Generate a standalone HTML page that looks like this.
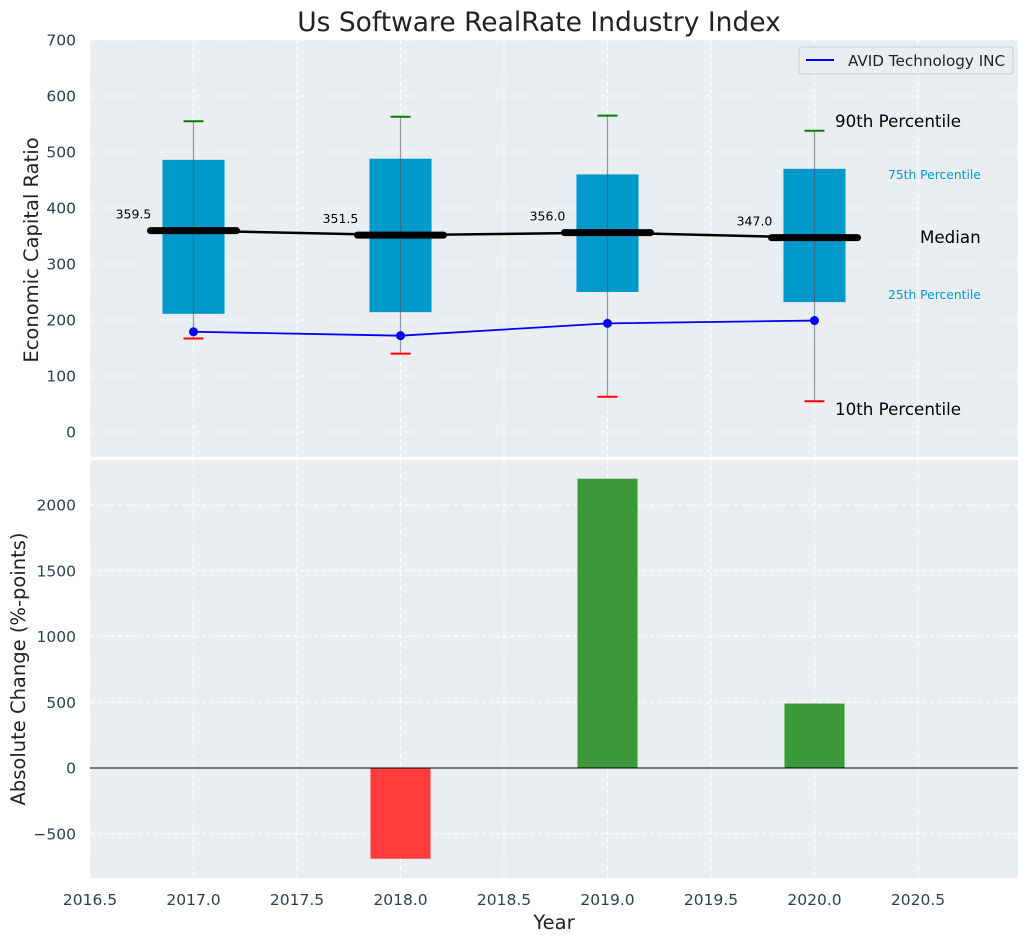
<!DOCTYPE html>
<html><head><meta charset="utf-8"><style>
body{margin:0;background:#fff;font-family:"Liberation Sans","DejaVu Sans",sans-serif;}
svg text{font-family:"DejaVu Sans","Liberation Sans",sans-serif;}
</style></head><body>
<svg id="chart" width="1029" height="942" xmlns="http://www.w3.org/2000/svg"></svg>
<script>
const years=[2017,2018,2019,2020];
const p10=[167,140,63,55];
const p25=[211,214,250,232];
const p50=[359.5,351.5,356.0,347.0];
const p75=[486,488,460,470];
const p90=[555,563,565,538];
const avid=[179,172,194,199];
const changes=[0,-690,2200,490];
const xTicks=[2016.5,2017.0,2017.5,2018.0,2018.5,2019.0,2019.5,2020.0,2020.5];
const yTopTicks=[0,100,200,300,400,500,600,700];
const yBotTicks=[-500,0,500,1000,1500,2000];

const NS="http://www.w3.org/2000/svg";
const svg=document.getElementById('chart');
function el(t,a,p){const e=document.createElementNS(NS,t);for(const k in a)e.setAttribute(k,a[k]);(p||svg).appendChild(e);return e;}
const L=90,R=1018;
const X=v=>L+(v-2016.5)*207;
const T0=40,T1=457,B0=460,B1=878;
const YT=v=>432-v*0.56;
const YB=v=>768-v*0.1315;

let e;
e=el('rect',{x:L,y:T0,width:R-L,height:T1-T0,fill:'#eaeef0'});

e=el('rect',{x:L,y:B0,width:R-L,height:B1-B0,fill:'#eaeef0'});


xTicks.forEach(t=>{
 el('line',{x1:X(t),x2:X(t),y1:T0,y2:T1,stroke:'#fff','stroke-dasharray':'4,3','stroke-width':1});
 el('line',{x1:X(t),x2:X(t),y1:B0,y2:B1,stroke:'#fff','stroke-dasharray':'4,3','stroke-width':1});
 e=el('text',{x:X(t),y:905,'text-anchor':'middle','font-size':15.5,fill:'#2e3f50'});e.textContent=t.toFixed(1);
 
});
yTopTicks.forEach(t=>{
 el('line',{x1:L,x2:R,y1:YT(t),y2:YT(t),stroke:'#fff','stroke-dasharray':'4,3'});
 e=el('text',{x:76,y:YT(t)+5.5,'text-anchor':'end','font-size':15.5,fill:'#2e3f50'});e.textContent=t;
 
});
yBotTicks.forEach(t=>{
 el('line',{x1:L,x2:R,y1:YB(t),y2:YB(t),stroke:'#fff','stroke-dasharray':'4,3'});
 e=el('text',{x:76,y:YB(t)+5.5,'text-anchor':'end','font-size':15.5,fill:'#2e3f50'});e.textContent=(t<0?'\u2212'+(-t):t);
 
});

years.forEach((y,i)=>{
 const cx=X(y),w=0.3*207;
 e=el('rect',{x:cx-w/2,y:YT(p75[i]),width:w,height:YT(p25[i])-YT(p75[i]),fill:'#0099cc'});
 
 el('line',{x1:cx,x2:cx,y1:YT(p90[i]),y2:YT(p10[i]),stroke:'#555','stroke-opacity':0.6,'stroke-width':1.2});
 e=el('line',{x1:cx-10,x2:cx+10,y1:YT(p90[i]),y2:YT(p90[i]),stroke:'green','stroke-width':2});
 
 e=el('line',{x1:cx-10,x2:cx+10,y1:YT(p10[i]),y2:YT(p10[i]),stroke:'red','stroke-width':2});
 
});
e=el('polyline',{points:years.map((y,i)=>X(y)+','+YT(p50[i])).join(' '),fill:'none',stroke:'#000','stroke-width':2.5});

years.forEach((y,i)=>{
 const cx=X(y);
 e=el('line',{x1:cx-43,x2:cx+43,y1:YT(p50[i]),y2:YT(p50[i]),stroke:'#000','stroke-width':7,'stroke-linecap':'round'});
 
 e=el('text',{x:cx-60,y:YT(p50[i])-12,'text-anchor':'middle','font-size':12.5,fill:'#000'});e.textContent=p50[i].toFixed(1);
 
});
e=el('polyline',{points:years.map((y,i)=>X(y)+','+YT(avid[i])).join(' '),fill:'none',stroke:'#0000ff','stroke-width':1.8});

years.forEach((y,i)=>{e=el('circle',{cx:X(y),cy:YT(avid[i]),r:4.5,fill:'#0000ff'});
 });

[['90th Percentile',835,127,16.7,'#000'],['75th Percentile',888,179,12.3,'#0099cc'],['Median',920,243,16.7,'#000'],['25th Percentile',888,299,12.3,'#0099cc'],['10th Percentile',835,415,16.7,'#000']].forEach(a=>{
 e=el('text',{x:a[1],y:a[2],'font-size':a[3],fill:a[4]});e.textContent=a[0];
 
});

const lg=el('g',{});
el('rect',{x:799,y:47,width:214,height:27,rx:3,fill:'#eaeef0',stroke:'#ccc'},lg);
el('line',{x1:806,x2:834,y1:60,y2:60,stroke:'#0000ff','stroke-width':2},lg);
e=el('text',{x:848,y:66,'font-size':15.2,fill:'#222'},lg);e.textContent='AVID Technology INC';

years.forEach((y,i)=>{
 if(!changes[i])return;
 const w=0.29*207,v=changes[i];
 e=el('rect',{x:X(y)-w/2,y:Math.min(YB(v),YB(0)),width:w,height:Math.abs(YB(v)-YB(0)),fill:v<0?'#ff3b3b':'#3a9a3a'});
 
});
el('line',{x1:L,x2:R,y1:YB(0),y2:YB(0),stroke:'#000','stroke-width':1});

e=el('text',{x:539,y:31,'text-anchor':'middle','font-size':26.5,fill:'#222'});e.textContent='Us Software RealRate Industry Index';

e=el('text',{x:0,y:0,'text-anchor':'middle','font-size':19.5,fill:'#222',transform:'translate(38,250) rotate(-90)'});e.textContent='Economic Capital Ratio';

e=el('text',{x:0,y:0,'text-anchor':'middle','font-size':19.5,fill:'#222',transform:'translate(25,669) rotate(-90)'});e.textContent='Absolute Change (%-points)';

e=el('text',{x:554,y:929,'text-anchor':'middle','font-size':19.5,fill:'#222'});e.textContent='Year';

</script>
</body></html>
